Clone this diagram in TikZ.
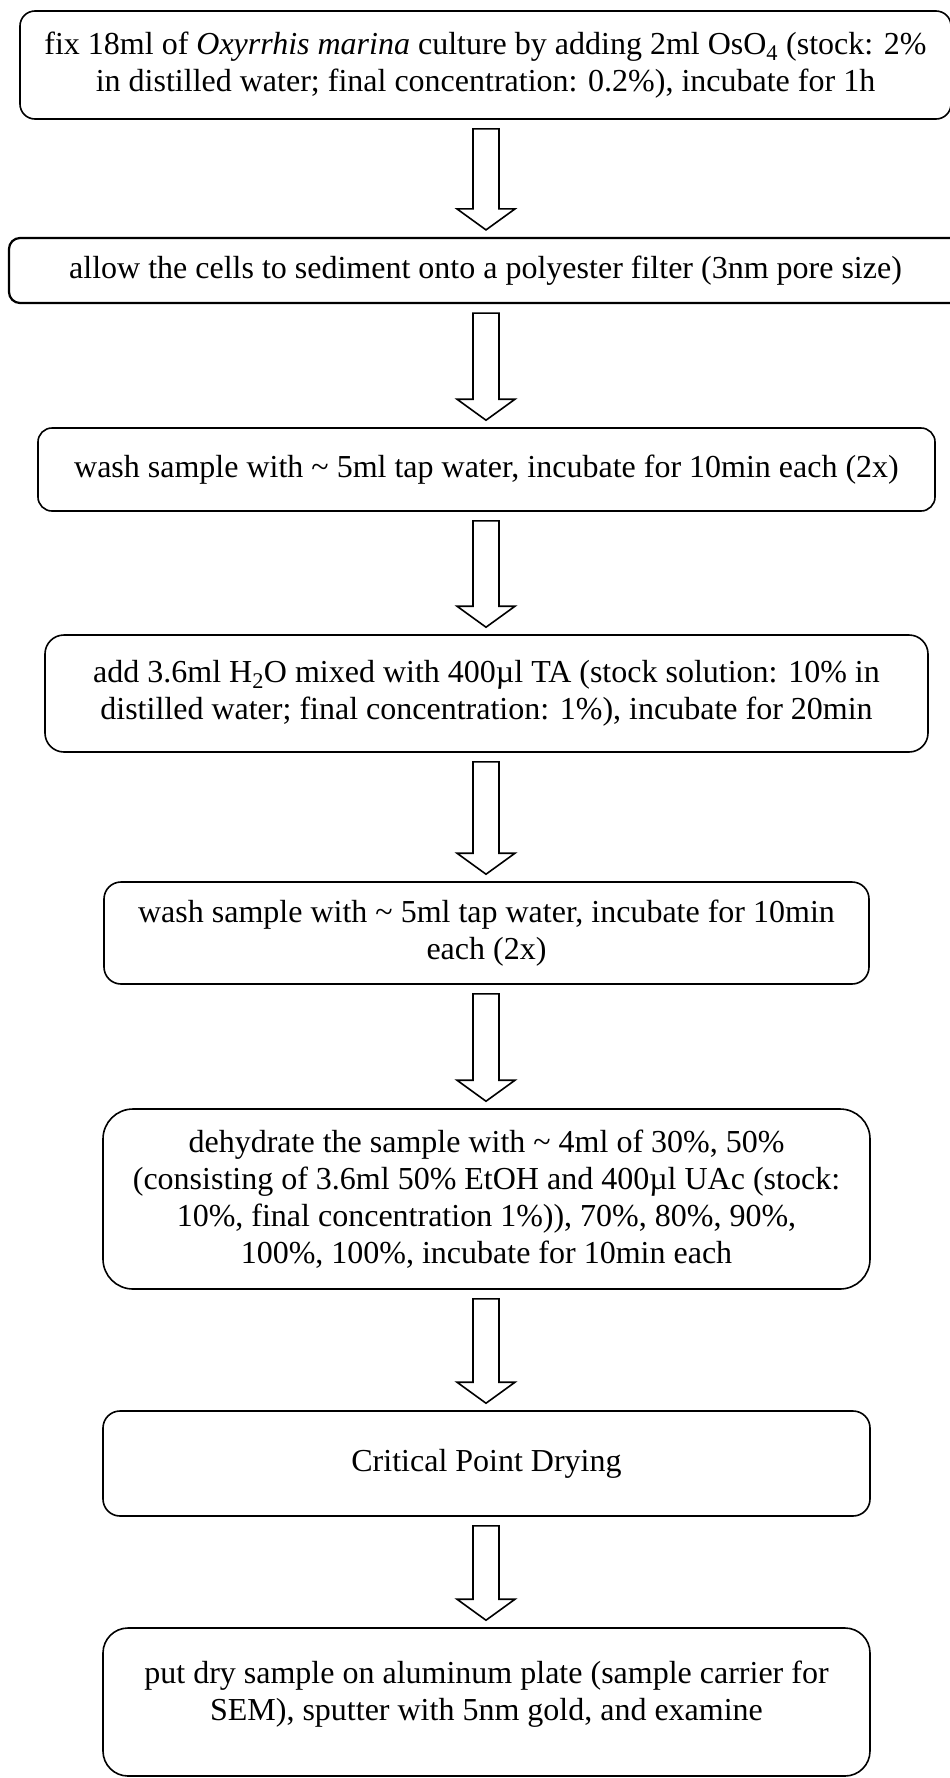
\documentclass[tikz,border=0pt]{standalone}
\usepackage{fontspec}
\setmainfont{Liberation Serif}
\usetikzlibrary{calc}
\tikzset{
  stepbox/.style={draw=black, line width=1.6pt, align=center, inner sep=0pt,
    font=\fontsize{32}{37}\selectfont},
  blockarrow/.style={draw=black, line width=1.6pt, fill=white, line join=miter}
}
\newcommand\flowarrow[2]{%
  \draw[blockarrow] let \p1=(#1.south), \p2=(#2.north) in
    (486pt-13pt,\y1-9pt) -- (486pt+13pt,\y1-9pt) -- (486pt+13pt,\y2+28pt)
    -- (486pt+29pt,\y2+28pt) -- (486pt,\y2+7pt) -- (486pt-29pt,\y2+28pt)
    -- (486pt-13pt,\y2+28pt) -- cycle;}
\begin{document}
\begin{tikzpicture}[x=1pt,y=-1pt]
\useasboundingbox[fill=white] (0,0) rectangle (950,1778);
\node[stepbox, rounded corners=15pt, minimum width=931pt, minimum height=108pt] (b1) at (485.5,65)
  {fix 18ml of \textit{Oxyrrhis marina} culture by adding 2ml OsO\textsubscript{4} (stock: 2\%\\
   in distilled water; final concentration: 0.2\%), incubate for 1h};
\node[stepbox, line width=2.2pt, rounded corners=11pt, minimum width=953pt, minimum height=65pt] (b2) at (485.5,270.5)
  {allow the cells to sediment onto a polyester filter (3nm pore size)};
\node[stepbox, rounded corners=14pt, minimum width=897pt, minimum height=83pt] (b3) at (486.5,469.5)
  {wash sample with \textasciitilde{} 5ml tap water, incubate for 10min each (2x)};
\node[stepbox, rounded corners=19pt, minimum width=883pt, minimum height=117pt] (b4) at (486.5,693.5)
  {add 3.6ml H\textsubscript{2}O mixed with 400µl TA (stock solution: 10\% in\\
   distilled water; final concentration: 1\%), incubate for 20min};
\node[stepbox, rounded corners=17pt, minimum width=765pt, minimum height=102pt] (b5) at (486.5,933)
  {wash sample with \textasciitilde{} 5ml tap water, incubate for 10min\\ each (2x)};
\node[stepbox, rounded corners=30pt, minimum width=767pt, minimum height=180pt] (b6) at (486.5,1199)
  {dehydrate the sample with \textasciitilde{} 4ml of 30\%, 50\%\\
   (consisting of 3.6ml 50\% EtOH and 400µl UAc (stock:\\
   10\%, final concentration 1\%)), 70\%, 80\%, 90\%,\\
   100\%, 100\%, incubate for 10min each};
\node[stepbox, rounded corners=17pt, minimum width=767pt, minimum height=105pt] (b7) at (486.5,1463.5)
  {Critical Point Drying};
\node[stepbox, rounded corners=25pt, minimum width=767pt, minimum height=148pt] (b8) at (486.5,1702)
  {put dry sample on aluminum plate (sample carrier for\\
   SEM), sputter with 5nm gold, and examine\\[-15pt]\mbox{}};
\flowarrow{b1}{b2}
\flowarrow{b2}{b3}
\flowarrow{b3}{b4}
\flowarrow{b4}{b5}
\flowarrow{b5}{b6}
\flowarrow{b6}{b7}
\flowarrow{b7}{b8}
\end{tikzpicture}
\end{document}
